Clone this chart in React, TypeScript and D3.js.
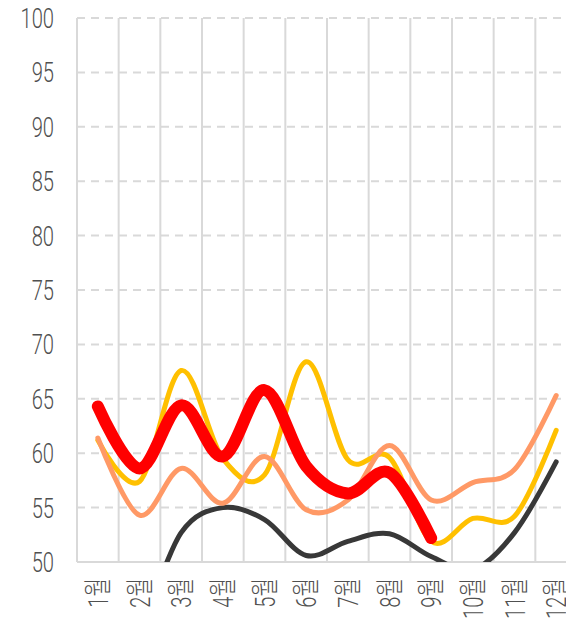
import React, { useEffect, useRef } from "react";
import * as d3 from "d3";

const months = ["1월", "2월", "3월", "4월", "5월", "6월", "7월", "8월", "9월", "10월", "11월", "12월"];
const yTicks = [50, 55, 60, 65, 70, 75, 80, 85, 90, 95, 100];

// values; null = no point
const darkSeries: (number | null)[] = [40, 44, 52.7, 55.0, 53.9, 50.6, 51.9, 52.6, 50.5, 49.3, 52.7, 59.2];
const yellowSeries: (number | null)[] = [61.2, 57.4, 67.6, 59.5, 58.0, 68.4, 59.4, 59.6, 51.9, 54.0, 54.2, 62.1];
const salmonSeries: (number | null)[] = [61.4, 54.3, 58.6, 55.4, 59.7, 54.8, 55.7, 60.7, 55.7, 57.3, 58.5, 65.3];
const redSeries: (number | null)[] = [64.3, 58.6, 64.4, 59.7, 65.8, 58.8, 56.3, 58.2, 52.2, null, null, null];

const series = [
  { name: "dark", values: darkSeries, color: "#383838", width: 5 },
  { name: "yellow", values: yellowSeries, color: "#FFC000", width: 5 },
  { name: "salmon", values: salmonSeries, color: "#FF9966", width: 5 },
  { name: "red", values: redSeries, color: "#FF0000", width: 12 },
];

const W = 566;
const H = 621;

const App = () => {
  const ref = useRef<SVGSVGElement>(null);

  useEffect(() => {
    const svg = d3.select(ref.current);
    svg.selectAll("*").remove();

    const left = 77, right = 577, top = 18, bottom = 562;
    const x = d3.scaleBand<string>().domain(months).range([left, right]).padding(0);
    const y = d3.scaleLinear().domain([50, 100]).range([bottom, top]);
    const cx = (m: string) => (x(m) as number) + x.bandwidth() / 2;

    svg.append("defs").append("clipPath").attr("id", "plotclip")
      .append("rect").attr("x", left - 10).attr("y", top - 10)
      .attr("width", right - left + 20).attr("height", bottom - top + 10);

    // horizontal dashed grid
    svg.append("g").selectAll("line")
      .data(yTicks.filter(d => d > 50))
      .enter().append("line")
      .attr("x1", left).attr("x2", right)
      .attr("y1", d => y(d)).attr("y2", d => y(d))
      .attr("stroke", "#D9D9D9").attr("stroke-width", 2)
      .attr("stroke-dasharray", "8,6");

    // vertical grid
    const edges = months.map(m => x(m) as number).concat([right]);
    svg.append("g").selectAll("line")
      .data(edges)
      .enter().append("line")
      .attr("x1", d => d).attr("x2", d => d)
      .attr("y1", top).attr("y2", bottom)
      .attr("stroke", "#D9D9D9").attr("stroke-width", 2);

    // axis line
    svg.append("line")
      .attr("x1", left).attr("x2", right)
      .attr("y1", bottom).attr("y2", bottom)
      .attr("stroke", "#D9D9D9").attr("stroke-width", 2);

    // y labels
    svg.append("g").selectAll("g")
      .data(yTicks)
      .enter().append("g")
      .attr("transform", d => `translate(54,${y(d) + 10}) scale(0.72,1)`)
      .append("text")
      .attr("text-anchor", "end")
      .attr("font-family", "Roboto, 'Noto Sans CJK KR', sans-serif")
      .attr("font-weight", 300)
      .attr("font-size", 28)
      .attr("fill", "#505050")
      .text(d => d);

    // x labels, rotated
    svg.append("g").selectAll("g")
      .data(months)
      .enter().append("g")
      .attr("transform", d => `translate(${cx(d) + 10},578) rotate(-90) scale(0.72,1)`)
      .append("text")
      .attr("text-anchor", "end")
      .attr("font-family", "Roboto, 'Noto Sans CJK KR', sans-serif")
      .attr("font-weight", 300)
      .attr("font-size", 28)
      .attr("fill", "#505050")
      .text(d => d);

    const line = d3.line<number | null>()
      .defined(d => d !== null)
      .x((d, i) => cx(months[i]))
      .y(d => y(d as number))
      .curve(d3.curveCardinal.tension(0));

    const lines = svg.append("g").attr("clip-path", "url(#plotclip)");
    series.forEach(s => {
      lines.append("path")
        .datum(s.values)
        .attr("d", line)
        .attr("fill", "none")
        .attr("stroke", s.color)
        .attr("stroke-width", s.width)
        .attr("stroke-linecap", "round")
        .attr("stroke-linejoin", "round");
    });
  }, []);

  return (
    <svg ref={ref} width={W} height={H}
      style={{ position: "absolute", left: 0, top: 0, background: "#fff" }} />
  );
};

export default App;
